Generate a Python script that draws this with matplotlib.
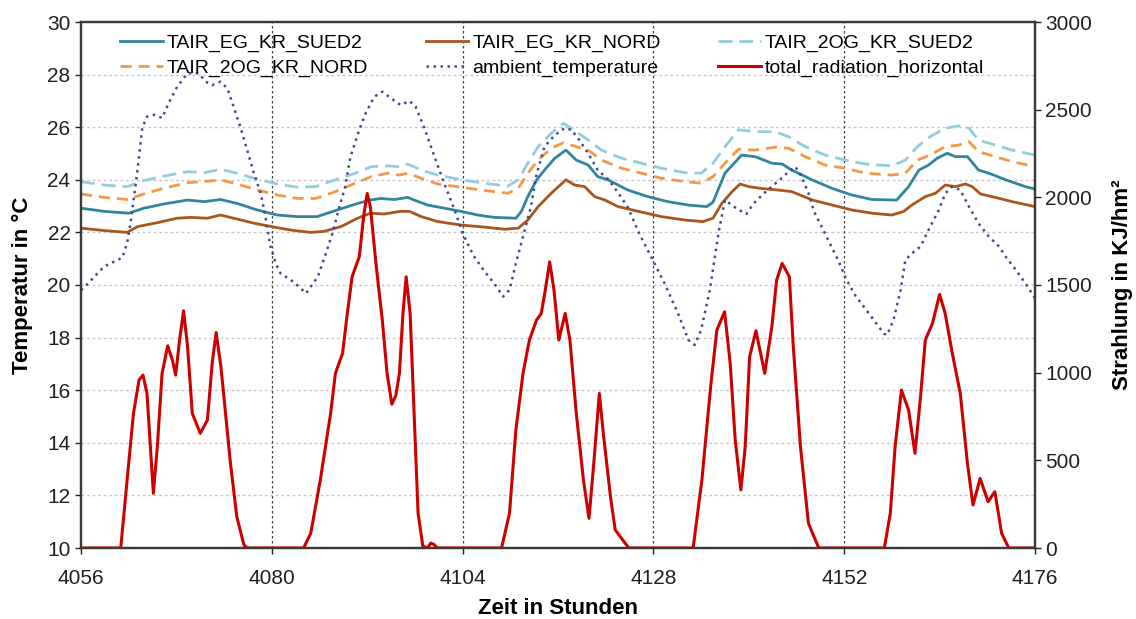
import matplotlib
matplotlib.use("Agg")
import matplotlib.pyplot as plt

plt.rcParams['font.family'] = ['Liberation Sans', 'DejaVu Sans']

# hours / values
hours_eg_sued = [4056, 4058.9, 4062.0, 4063.9, 4066.4, 4069.4, 4071.5, 4073.55, 4075.65, 4078.2, 4080.7, 4083.2,
                 4085.7, 4088.2, 4090.8, 4092.4, 4093.7, 4095.4, 4097.1, 4097.9, 4099.6, 4101.7, 4103.8, 4105.9,
                 4108.0, 4110.7, 4111.4, 4112.2, 4113.3, 4114.3, 4115.6, 4117.0, 4118.3, 4119.8, 4121.0, 4122.3,
                 4123.55, 4124.8, 4127.3, 4129.8, 4132.4, 4134.7, 4135.5, 4137.0, 4139.1, 4140.8, 4142.9, 4144.2,
                 4145.4, 4147.95, 4150.5, 4153.0, 4155.5, 4158.6, 4160.1, 4161.4, 4162.6, 4163.7, 4164.95, 4166.0,
                 4167.5, 4168.9, 4170.2, 4172.3, 4174.8, 4176]
tair_eg_sued = [22.92, 22.8, 22.73, 22.92, 23.08, 23.23, 23.17, 23.25, 23.1, 22.85, 22.66, 22.6,
                22.6, 22.85, 23.1, 23.23, 23.29, 23.25, 23.33, 23.23, 23.04, 22.92, 22.8, 22.66,
                22.57, 22.54, 22.8, 23.36, 23.99, 24.37, 24.82, 25.13, 24.75, 24.56, 24.12, 24.0,
                23.8, 23.61, 23.36, 23.17, 23.04, 22.98, 23.15, 24.25, 24.94, 24.88, 24.63, 24.6,
                24.37, 24.0, 23.67, 23.42, 23.25, 23.23, 23.74, 24.37, 24.56, 24.82, 25.01, 24.88,
                24.88, 24.37, 24.25, 24.0, 23.74, 23.65]

hours_eg_nord = [4056, 4058.9, 4061.8, 4063.1, 4065.6, 4068.1, 4069.8, 4071.9, 4073.55, 4075.2, 4077.75, 4080.3,
                 4082.8, 4084.9, 4086.6, 4088.7, 4090.8, 4092.4, 4094.1, 4096.2, 4097.3, 4098.8, 4100.9, 4103.8,
                 4106.8, 4109.3, 4111.0, 4112.2, 4113.5, 4115.15, 4117.0, 4118.1, 4119.35, 4120.6, 4121.9, 4123.55,
                 4126.1, 4129.0, 4132.0, 4134.2, 4135.5, 4136.6, 4137.9, 4138.9, 4140.0, 4141.6, 4143.75, 4145.4,
                 4148.0, 4150.5, 4153.0, 4155.5, 4158.0, 4159.5, 4160.5, 4162.2, 4163.5, 4164.7, 4166.0, 4167.25,
                 4168.1, 4169.15, 4171.0, 4173.1, 4176]
tair_eg_nord = [22.16, 22.07, 22.0, 22.22, 22.37, 22.54, 22.57, 22.54, 22.66, 22.54, 22.35, 22.2,
                22.07, 22.0, 22.04, 22.22, 22.54, 22.73, 22.7, 22.8, 22.8, 22.6, 22.41, 22.28,
                22.2, 22.12, 22.16, 22.47, 22.98, 23.49, 24.0, 23.8, 23.74, 23.36, 23.23, 22.98,
                22.8, 22.6, 22.47, 22.41, 22.54, 23.1, 23.55, 23.84, 23.74, 23.67, 23.61, 23.55,
                23.23, 23.04, 22.85, 22.73, 22.66, 22.8, 23.04, 23.36, 23.49, 23.8, 23.74, 23.84,
                23.74, 23.46, 23.33, 23.17, 22.98]

hours_2og = [4056, 4058.9, 4061.8, 4063.9, 4066.4, 4069.4, 4071.5, 4073.55, 4075.65, 4078.2, 4080.7, 4083.2,
             4085.5, 4088.0, 4090.5, 4092.5, 4094.6, 4096.0, 4097.1, 4098.8, 4100.9, 4103.8, 4106.8, 4109.7,
             4111.0, 4112.2, 4113.5, 4115.15, 4116.7, 4118.3, 4119.8, 4121.45, 4124.0, 4126.5, 4129.0, 4132.0,
             4134.0, 4135.5, 4137.0, 4138.7, 4140.8, 4143.3, 4145.0, 4147.1, 4149.6, 4152.1, 4154.7, 4158.0,
             4159.7, 4161.2, 4162.8, 4164.7, 4166.4, 4167.7, 4168.9, 4171.0, 4173.1, 4176]
tair_2og_nord = [23.46, 23.33, 23.25, 23.46, 23.68, 23.89, 23.93, 24.0, 23.84, 23.61, 23.42, 23.29,
                 23.29, 23.55, 23.87, 24.12, 24.25, 24.18, 24.25, 24.06, 23.84, 23.72, 23.59, 23.49,
                 23.68, 24.25, 24.75, 25.2, 25.41, 25.26, 25.13, 24.75, 24.44, 24.25, 24.06, 23.93,
                 23.87, 24.12, 24.63, 25.16, 25.13, 25.24, 25.2, 24.88, 24.56, 24.44, 24.25, 24.18,
                 24.25, 24.75, 24.94, 25.26, 25.32, 25.45, 25.07, 24.88, 24.69, 24.5]
tair_2og_sued = [23.93, 23.8, 23.74, 23.97, 24.14, 24.31, 24.27, 24.4, 24.25, 24.02, 23.84, 23.72,
                 23.74, 24.0, 24.25, 24.5, 24.53, 24.5, 24.6, 24.37, 24.18, 24.0, 23.87, 23.76,
                 24.0, 24.63, 25.26, 25.77, 26.15, 25.83, 25.51, 25.13, 24.82, 24.63, 24.44, 24.27,
                 24.25, 24.63, 25.26, 25.9, 25.83, 25.83, 25.64, 25.26, 24.94, 24.75, 24.6, 24.53,
                 24.75, 25.26, 25.64, 25.96, 26.05, 25.96, 25.51, 25.32, 25.13, 24.94]

hours_ambient = [4056, 4056.5, 4058.9, 4061.2, 4061.8, 4062.2, 4063.06, 4063.7, 4064.3, 4065.2, 4066.2, 4067.0,
                 4068.1, 4069.4, 4070.8, 4071.7, 4072.5, 4073.55, 4074.4, 4075.2, 4076.1, 4076.9, 4077.75, 4078.6,
                 4079.2, 4079.8, 4080.5, 4081.1, 4082.4, 4083.4, 4084.3, 4084.9, 4085.8, 4086.8, 4087.7, 4088.5,
                 4089.2, 4089.9, 4091.0, 4091.8, 4092.9, 4093.9, 4095.0, 4096.2, 4097.3, 4098.1, 4099.2, 4100.5,
                 4101.7, 4103.0, 4104.0, 4105.4, 4106.8, 4108.0, 4109.1, 4109.9, 4110.7, 4111.6, 4112.6, 4113.3,
                 4114.3, 4115.6, 4116.8, 4117.7, 4118.7, 4119.8, 4121.0, 4122.4, 4123.6, 4124.8, 4126.2, 4128.0,
                 4129.4, 4131.1, 4132.4, 4133.2, 4134.0, 4135.1, 4136.2, 4137.0, 4138.5, 4139.7, 4140.6, 4142.3,
                 4143.9, 4144.8, 4145.85, 4146.5, 4147.5, 4148.2, 4149.6, 4151.3, 4152.2, 4153.4, 4155.1, 4157.0,
                 4157.4, 4158.2, 4159.1, 4159.7, 4160.5, 4161.6, 4162.6, 4163.9, 4164.7, 4165.6, 4166.6, 4167.7,
                 4168.9, 4170.2, 4171.5, 4172.3, 4173.6, 4174.8, 4176]
ambient_temperature = [19.8, 19.94, 20.7, 21.04, 21.6, 22.3, 24.25, 25.96, 26.4, 26.47, 26.35, 26.9,
                       27.54, 28.05, 28.05, 27.73, 27.6, 27.73, 27.48, 26.78, 25.95, 25.13, 24.25, 23.49,
                       22.6, 21.5, 20.82, 20.44, 20.19, 19.94, 19.68, 19.94, 20.32, 21.2, 22.03, 22.98,
                       23.7, 24.88, 25.9, 26.53, 27.16, 27.35, 27.1, 26.84, 27.0, 26.78, 25.96, 24.85,
                       23.85, 22.85, 21.97, 21.1, 20.5, 20.05, 19.56, 19.81, 20.82, 21.84, 22.98, 24.2,
                       25.26, 25.7, 25.96, 25.9, 25.5, 25.0, 24.37, 23.99, 23.49, 22.95, 21.97, 20.9,
                       20.06, 18.92, 17.91, 17.72, 18.29, 19.81, 22.0, 23.23, 22.9, 22.7, 23.1, 23.6,
                       24.0, 24.25, 24.5, 24.2, 23.5, 22.8, 21.95, 20.9, 20.25, 19.6, 18.92, 18.15,
                       18.1, 18.67, 19.81, 20.95, 21.2, 21.46, 22.09, 22.85, 23.48, 23.74, 23.61, 22.98,
                       22.34, 21.84, 21.46, 21.08, 20.57, 20.06, 19.5]

hours_radiation = [4056, 4061.0, 4061.8, 4062.6, 4063.3, 4063.8, 4064.3, 4065.1, 4065.6, 4066.2, 4066.9, 4067.5,
                   4067.9, 4068.4, 4068.9, 4069.4, 4070.0, 4071.0, 4071.9, 4072.5, 4073.0, 4073.6, 4074.8, 4075.6,
                   4076.5, 4076.9,
                   4084.0, 4084.9, 4086.1, 4087.4, 4088.0, 4088.9, 4089.5, 4090.1, 4091.0, 4091.6, 4092.0, 4092.4,
                   4093.1, 4093.9, 4094.5, 4095.1, 4095.6, 4096.05, 4096.5, 4096.9, 4097.4, 4097.9, 4098.4, 4099.0,
                   4099.6, 4100.0, 4100.4, 4100.8,
                   4108.9, 4109.9, 4110.7, 4111.6, 4112.4, 4113.3, 4113.9, 4114.4, 4114.95, 4115.5, 4116.1, 4116.9,
                   4117.5, 4118.3, 4119.2, 4119.9, 4120.5, 4121.2, 4121.7, 4122.6, 4123.2, 4124.9,
                   4133.0, 4134.1, 4135.2, 4135.98, 4136.95, 4137.66, 4138.29, 4139.0, 4139.55, 4140.1, 4140.9, 4142.0,
                   4142.9, 4143.5, 4144.2, 4145.1, 4145.6, 4146.5, 4147.5, 4148.8,
                   4157.05, 4157.8, 4158.4, 4159.2, 4160.1, 4160.9, 4161.6, 4162.2, 4163.1, 4164.0, 4164.7, 4165.6,
                   4166.6, 4167.5, 4168.2, 4169.1, 4170.1, 4170.95, 4171.8, 4172.7, 4176]
total_radiation = [0, 0, 388, 768, 958, 986, 882, 312, 577, 996, 1153, 1072,
                   986, 1186, 1353, 1151, 768, 654, 730, 1053, 1229, 1034, 483, 178,
                   17, 0,
                   0, 84, 388, 768, 996, 1110, 1338, 1547, 1661, 1908, 2022, 1946,
                   1623, 1300, 996, 820, 870, 996, 1338, 1547, 1338, 768, 198, 10,
                   0, 28, 20, 0,
                   0, 198, 673, 996, 1186, 1300, 1338, 1471, 1632, 1471, 1186, 1338,
                   1186, 768, 388, 169, 483, 882, 654, 293, 103, 0,
                   0, 388, 920, 1243, 1347, 1053, 616, 331, 577, 1090, 1239, 996,
                   1262, 1528, 1623, 1547, 1147, 577, 141, 0,
                   0, 198, 577, 901, 787, 540, 862, 1186, 1281, 1446, 1338, 1110,
                   882, 483, 245, 397, 264, 321, 84, 0, 0]

x_ticks = [4056, 4080, 4104, 4128, 4152, 4176]
temp_ticks = list(range(10, 31, 2))
rad_ticks = list(range(0, 3001, 500))

fig = plt.figure(figsize=(11.36, 6.19), dpi=100)
ax = fig.add_axes([81 / 1136, 71 / 619, 954 / 1136, 526 / 619])
ax2 = ax.twinx()

l1, = ax.plot(hours_eg_sued, tair_eg_sued, color='#31859C', lw=2.0, label='TAIR_EG_KR_SUED2')
l2, = ax.plot(hours_eg_nord, tair_eg_nord, color='#A9561C', lw=2.0, label='TAIR_EG_KR_NORD')
l3, = ax.plot(hours_2og, tair_2og_sued, color='#93CDDD', lw=2.0, ls=(0, (5, 2.5)), label='TAIR_2OG_KR_SUED2')
l4, = ax.plot(hours_2og, tair_2og_nord, color='#F79646', lw=2.0, ls=(0, (4, 2.5)), label='TAIR_2OG_KR_NORD')
l5, = ax.plot(hours_ambient, ambient_temperature, color='#3F4C8F', lw=1.8, ls=(0, (1, 1.8)),
              label='ambient_temperature')
l6, = ax2.plot(hours_radiation, total_radiation, color='#CC0000', lw=2.2, solid_joinstyle='round',
               label='total_radiation_horizontal')

ax.set_xlim(4056, 4176)
ax.set_ylim(10, 30)
ax2.set_ylim(0, 3000)
ax.set_xticks(x_ticks)
ax.set_yticks(temp_ticks)
ax2.set_yticks(rad_ticks)

# grid: light dashed horizontals, dark dotted verticals
for t in temp_ticks[1:-1]:
    ax.axhline(t, color='#C8C8C8', lw=1.0, ls=(0, (2, 2)), zorder=0)
for t in x_ticks[1:-1]:
    ax.axvline(t, color='#404040', lw=0.9, ls=(0, (2, 2)), zorder=0)

for a in (ax, ax2):
    for s in a.spines.values():
        s.set_color('#3A3A3A')
        s.set_linewidth(1.6)
    a.tick_params(labelsize=15, colors='#202020', length=4, width=1, direction='out')
ax.tick_params(axis='x', pad=11)

ax.set_xlabel('Zeit in Stunden', fontsize=16, fontweight='bold', labelpad=7)
ax.set_ylabel('Temperatur in °C', fontsize=16, fontweight='bold', labelpad=10)
ax2.set_ylabel('Strahlung in KJ/hm²', fontsize=16, fontweight='bold', labelpad=14)

handles = [l1, l4, l2, l5, l3, l6]
ax2.legend(handles=handles, labels=[h.get_label() for h in handles], ncol=3, frameon=False,
           loc='upper left', bbox_to_anchor=(0.041, 0.977), fontsize=14, handlelength=2.2,
           handletextpad=0.2, columnspacing=2.95, labelspacing=0.38, borderpad=0, borderaxespad=0)

fig.savefig('out.png', dpi=100, facecolor='white')
